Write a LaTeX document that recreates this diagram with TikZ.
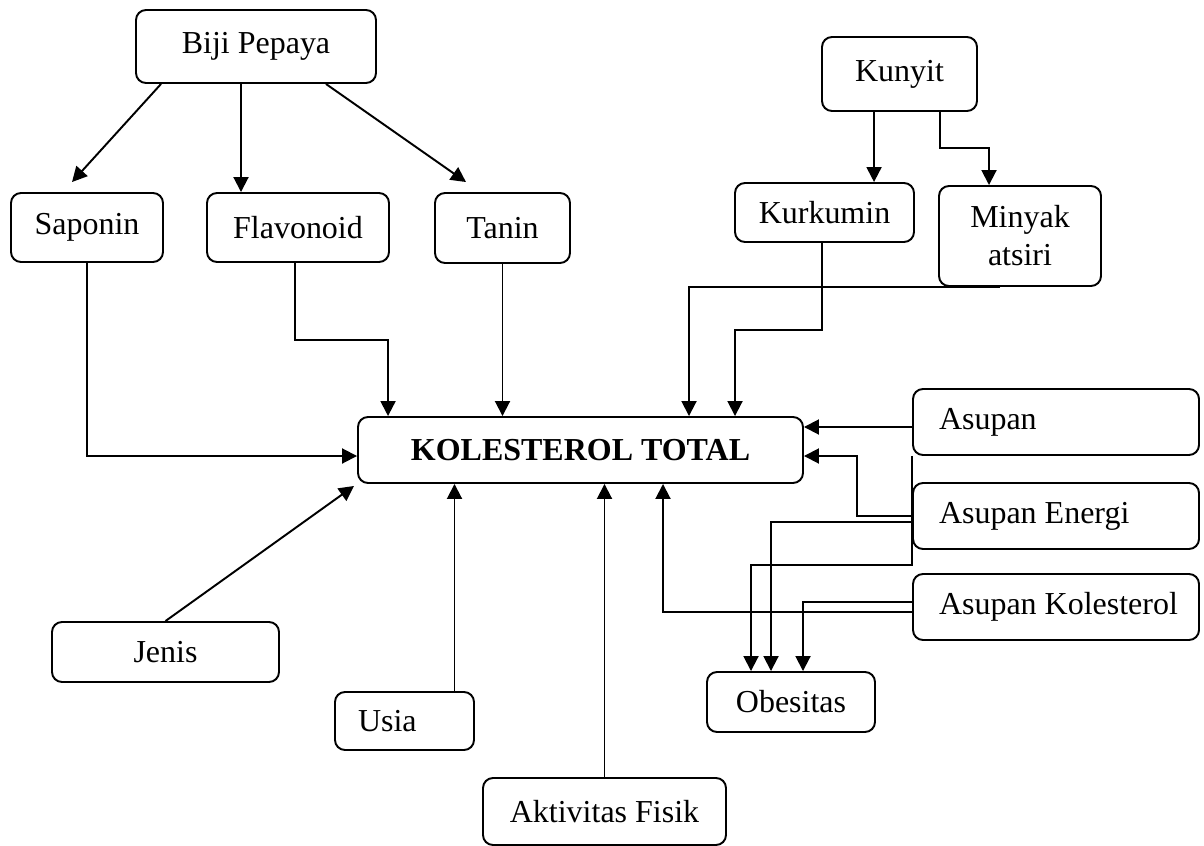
\documentclass[tikz,border=0pt]{standalone}
\usepackage{fontspec}
\setmainfont{Liberation Serif}
\usetikzlibrary{arrows.meta, calc}

\begin{document}
\begin{tikzpicture}[
    >={Triangle[length=3mm, width=3mm]},
    font=\fontsize{18.2}{21.6}\selectfont,
    line width=1.1pt,
    box/.style    ={draw, rounded corners=2mm, align=center, inner sep=0pt},
    main/.style   ={box, minimum width=89mm, minimum height=13.2mm,
                    font=\fontsize{18.2}{21.6}\selectfont\bfseries},
    intake/.style ={box, minimum width=57.2mm, minimum height=13.2mm,
                    text width=57.2mm, align=flush left,
                    execute at begin node={\hspace*{5.2mm}}},
    flow/.style   ={->}
]
\useasboundingbox (0,0) rectangle (24.08,-16.92);

% =================== Biji Pepaya and its compounds (top-left) ===================
\node[box, minimum width=48mm, minimum height=14.6mm] (bp) at (5.12,-0.93) {Biji Pepaya};
\node[box, minimum width=30.4mm, minimum height=13.8mm] (sap) at (1.74,-4.55) {Saponin};
\node[box, minimum width=36.4mm, minimum height=13.8mm] (flav) at (5.96,-4.55) {Flavonoid};
\node[box, minimum width=27mm, minimum height=14mm] (tan) at (10.05,-4.56) {Tanin};

% =================== Kunyit and its compounds (top-right) ===================
\node[box, minimum width=31mm, minimum height=14.8mm] (kun) at (17.99,-1.48) {Kunyit};
\node[box, minimum width=35.8mm, minimum height=11.8mm] (kur) at (16.49,-4.25) {Kurkumin};
\node[box, minimum width=32.4mm, minimum height=20mm] (min) at (20.40,-4.72) {Minyak\\atsiri};

% =================== Outcome (centre) ===================
\node[main] (kt) at (11.61,-9.00) {KOLESTEROL TOTAL};

% =================== Intake (right column) ===================
\node[intake] (asu) at (21.12,-8.44) {Asupan};
\node[intake] (ase) at (21.12,-10.32) {Asupan Energi};
\node[intake] (ask) at (21.12,-12.14) {Asupan Kolesterol};
\node[box, minimum width=33.6mm, minimum height=12mm] (obe) at (15.82,-14.04) {Obesitas};

% =================== Other factors (bottom) ===================
\node[box, minimum width=45.4mm, minimum height=12mm] (jen) at (3.31,-13.04) {Jenis};
\node[box, minimum width=27.8mm, minimum height=11.6mm, text width=18.6mm, align=flush left]
    (usi) at (8.09,-14.42) {Usia};
\node[box, minimum width=48.6mm, minimum height=13.4mm] (akt) at (12.09,-16.23) {Aktivitas Fisik};

% --- Arrows ---

% Biji Pepaya -> compounds
\draw[flow] ([xshift=5.2mm]bp.south west) -- ([xshift=-3mm, yshift=2mm]sap.north);
\draw[flow] ([xshift=-3mm]bp.south) -- ([xshift=-3mm]bp.south |- flav.north);
\draw[flow] ([xshift=-10.2mm]bp.south east) -- ([xshift=-7.3mm, yshift=2mm]tan.north);

% Kunyit -> compounds
\draw[flow] ([xshift=10.6mm]kun.south west) -- ([xshift=10.6mm]kun.south west |- kur.north);
\draw[flow] ([xshift=-7.6mm]kun.south east) -- ++(0,-0.72) -| ([xshift=-6.2mm]min.north);

% compounds -> kolesterol total
\draw[flow] (sap.south) |- ([yshift=-1.2mm]kt.west);
\draw[flow] ([xshift=-0.6mm]flav.south) -- ++(0,-1.54) -| ([xshift=6.2mm]kt.north west);
\draw[flow] (tan.south) -- (tan.south |- kt.north);
\draw[flow] ([xshift=-4mm]min.south) -| ([xshift=21.7mm]kt.north);
\draw[flow] ([xshift=-0.5mm]kur.south) -- ++(0,-1.74) -| ([xshift=30.9mm]kt.north);

% intake -> kolesterol total
\draw[flow] ([yshift=-1mm]asu.west) -- ([yshift=-1mm]asu.west -| kt.east);
\draw[flow] (ase.west) -- ++(-1.1,0) |- ([yshift=-1.2mm]kt.east);
\draw[flow] ([yshift=-1mm]ask.west) -| ([xshift=16.5mm]kt.south);

% intake -> obesitas
\draw[flow] (asu.south west) -- ++(0,-2.18) -| ([xshift=-8mm]obe.north);
\draw[flow] ([yshift=-1.2mm]ase.west) -| ([xshift=-4mm]obe.north);
\draw[flow] ([yshift=1mm]ask.west) -| ([xshift=2.4mm]obe.north);

% other factors -> kolesterol total
\draw[flow] (jen.north) -- ([xshift=-0.6mm, yshift=-0.4mm]kt.south west);
\draw[flow] ([xshift=10mm]usi.north) -- ([xshift=10mm]usi.north |- kt.south);
\draw[flow] (akt.north) -- (akt.north |- kt.south);

\end{tikzpicture}
\end{document}
